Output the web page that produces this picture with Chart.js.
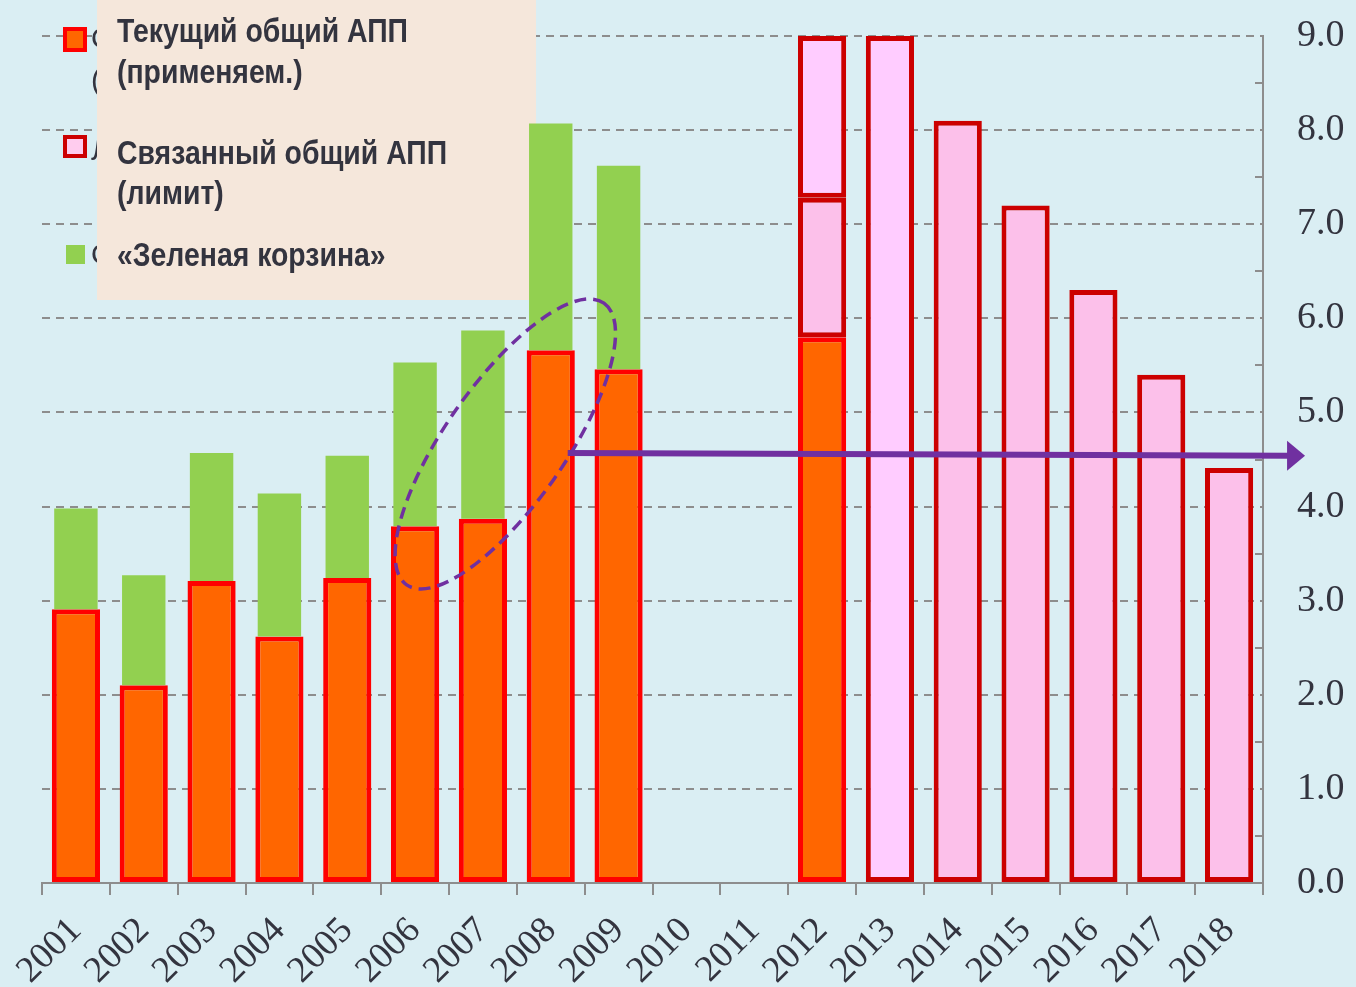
<!DOCTYPE html>
<html>
<head>
<meta charset="utf-8">
<script src="https://cdn.jsdelivr.net/npm/chart.js@4.4.1/dist/chart.umd.min.js"></script>
<style>
  html, body { margin: 0; padding: 0; background: #daeef3; }
</style>
</head>
<body>
<canvas id="chart" width="1356" height="987"></canvas>
<script>
const years = ["2001", "2002", "2003", "2004", "2005", "2006", "2007", "2008", "2009",
  "2010", "2011", "2012", "2013", "2014", "2015", "2016", "2017", "2018"];

// current applied AMS (orange)
const appliedAms = [2.91, 2.10, 3.21, 2.62, 3.24, 3.79, 3.87, 5.66, 5.46, null, null, 5.80,
  null, null, null, null, null, null];
// applied AMS + green box (top of the green part)
const withGreenBox = [3.98, 3.27, 4.57, 4.14, 4.54, 5.53, 5.87, 8.07, 7.62, null, null, null,
  null, null, null, null, null, null];
// bound AMS (pink)
const boundAms = [null, null, null, null, null, null, null, null, null, null, null, 7.28,
  null, 8.10, 7.20, 6.30, 5.40, 4.41];
// bound ceiling (light pink)
const boundCeiling = [null, null, null, null, null, null, null, null, null, null, null, 9.0,
  9.0, null, null, null, null, null];

const yTicks = [0, 1, 2, 3, 4, 5, 6, 7, 8, 9];
const arrowLevel = [4.57, 4.54];

const legendLines = [
  ["Текущий общий АПП", "(применяем.)"],
  ["Связанный общий АПП", "(лимит)"],
  ["«Зеленая корзина»"]
];

const textColor = "#33343f";
const gridColor = "#8d8d8d";
const purple = "#7030a0";

function range(lows, highs) {
  return highs.map((h, i) => (h == null ? null : [lows[i] || 0, h]));
}

const orangeData = range([], appliedAms);
const greenData = range(appliedAms, withGreenBox);
const pinkData = range(appliedAms, boundAms);
const lightData = boundCeiling.map((h, i) => (h == null ? null : [boundAms[i] || appliedAms[i] || 0, h]));

const decor = {
  id: "decor",
  beforeDraw(chart) {
    const { ctx, width, height } = chart;
    ctx.save();
    ctx.fillStyle = "#daeef3";
    ctx.fillRect(0, 0, width, height);
    ctx.restore();
  },
  beforeDatasetsDraw(chart) {
    const { ctx } = chart;
    ctx.save();
    // original legend, mostly hidden by the text box
    ctx.fillStyle = "#ff6600";
    ctx.strokeStyle = "#ff0000";
    ctx.lineWidth = 4;
    ctx.fillRect(65, 29, 20, 21);
    ctx.strokeRect(65, 29, 20, 21);
    ctx.fillStyle = "#ffccee";
    ctx.strokeStyle = "#cc0000";
    ctx.fillRect(65, 137, 20, 19);
    ctx.strokeRect(65, 137, 20, 19);
    ctx.fillStyle = "#92d050";
    ctx.fillRect(66, 245, 19, 19);
    ctx.fillStyle = textColor;
    ctx.font = "30px 'Liberation Sans', sans-serif";
    ctx.fillText("Общий АПП", 91, 48);
    ctx.fillText("(применяемый)", 91, 90);
    ctx.fillText("Лимит", 91, 160);
    ctx.fillText("Общий", 91, 264);

    // text box
    ctx.fillStyle = "#f5e7db";
    ctx.fillRect(97, 0, 439, 300);
    ctx.fillStyle = textColor;
    ctx.font = "bold 34px 'Liberation Sans', Arial, sans-serif";
    const sx = 291 / ctx.measureText(legendLines[0][0]).width;
    ctx.translate(117, 0);
    ctx.scale(sx, 1);
    const baselines = [[42, 83], [164, 204], [266]];
    legendLines.forEach((lines, i) => {
      lines.forEach((t, j) => ctx.fillText(t, 0, baselines[i][j]));
    });
    ctx.restore();
  },
  afterDatasetsDraw(chart) {
    const { ctx, chartArea } = chart;
    const x = chart.scales.x;
    const y = chart.scales.y;
    const step = x.getPixelForValue(1) - x.getPixelForValue(0);
    const xAt = (idx) => x.getPixelForValue(0) + idx * step;

    ctx.save();
    // minor ticks on the right axis
    ctx.strokeStyle = gridColor;
    ctx.lineWidth = 2;
    for (let v = 0.5; v < 9; v += 1) {
      const py = Math.round(y.getPixelForValue(v));
      ctx.beginPath();
      ctx.moveTo(chartArea.right - 8, py);
      ctx.lineTo(chartArea.right, py);
      ctx.stroke();
    }

    // dashed ellipse
    ctx.strokeStyle = purple;
    ctx.lineWidth = 3.5;
    ctx.setLineDash([12, 7]);
    ctx.beginPath();
    ctx.ellipse(xAt(6.33), y.getPixelForValue(4.665), 172, 60, -55 * Math.PI / 180, 0, Math.PI * 2);
    ctx.stroke();
    ctx.setLineDash([]);

    // arrow
    const x1 = xAt(7.25), y1 = y.getPixelForValue(arrowLevel[0]);
    const x2 = xAt(18.12), y2 = y.getPixelForValue(arrowLevel[1]);
    ctx.lineWidth = 6;
    ctx.beginPath();
    ctx.moveTo(x1, y1);
    ctx.lineTo(x2 - 16, y2);
    ctx.stroke();
    ctx.fillStyle = purple;
    ctx.beginPath();
    ctx.moveTo(x2, y2);
    ctx.lineTo(x2 - 18, y2 - 15);
    ctx.lineTo(x2 - 18, y2 + 15);
    ctx.closePath();
    ctx.fill();
    ctx.restore();
  }
};

new Chart(document.getElementById("chart"), {
  type: "bar",
  data: {
    labels: years,
    datasets: [
      {
        label: "Текущий общий АПП",
        data: orangeData,
        backgroundColor: "#ff6600",
        borderColor: "#ff0000",
        borderWidth: 5,
        borderSkipped: false,
        barPercentage: 0.71,
        categoryPercentage: 1,
        grouped: false,
        order: 4
      },
      {
        label: "«Зеленая корзина»",
        data: greenData,
        backgroundColor: "#92d050",
        borderWidth: 0,
        barPercentage: 0.64,
        categoryPercentage: 1,
        grouped: false,
        order: 3
      },
      {
        label: "Связанный общий АПП",
        data: pinkData,
        backgroundColor: "#fcc0ea",
        borderColor: "#cc0000",
        borderWidth: 5,
        borderSkipped: false,
        barPercentage: 0.71,
        categoryPercentage: 1,
        grouped: false,
        order: 2
      },
      {
        label: "Лимит",
        data: lightData,
        backgroundColor: "#ffccff",
        borderColor: "#cc0000",
        borderWidth: 5,
        borderSkipped: false,
        barPercentage: 0.71,
        categoryPercentage: 1,
        grouped: false,
        order: 1
      }
    ]
  },
  options: {
    responsive: false,
    animation: false,
    layout: { padding: { top: 36, left: 42, right: 0, bottom: 0 } },
    plugins: {
      legend: { display: false },
      tooltip: { enabled: false }
    },
    scales: {
      x: {
        offset: true,
        grid: {
          offset: true,
          drawOnChartArea: false,
          drawTicks: true,
          tickLength: 12,
          color: gridColor,
          lineWidth: 2
        },
        border: { display: true, color: gridColor, width: 2 },
        ticks: {
          autoSkip: false,
          minRotation: 45,
          maxRotation: 45,
          padding: 14,
          color: textColor,
          font: { family: "'Liberation Serif', serif", size: 37 }
        },
        afterFit(scale) { scale.height = 104; }
      },
      y: {
        position: "right",
        min: 0,
        max: 9,
        afterBuildTicks(scale) { scale.ticks = yTicks.map((v) => ({ value: v })); },
        grid: { color: gridColor, lineWidth: 2, drawTicks: false },
        border: { display: true, color: gridColor, width: 2, dash: [8, 6] },
        ticks: {
          padding: 34,
          color: textColor,
          font: { family: "'Liberation Serif', serif", size: 38 },
          callback: (v) => Number(v).toFixed(1)
        },
        afterFit(scale) {
          scale.width = 93;
          scale.paddingTop = 0;
          scale.paddingBottom = 0;
        }
      }
    }
  },
  plugins: [decor]
});
</script>
</body>
</html>
